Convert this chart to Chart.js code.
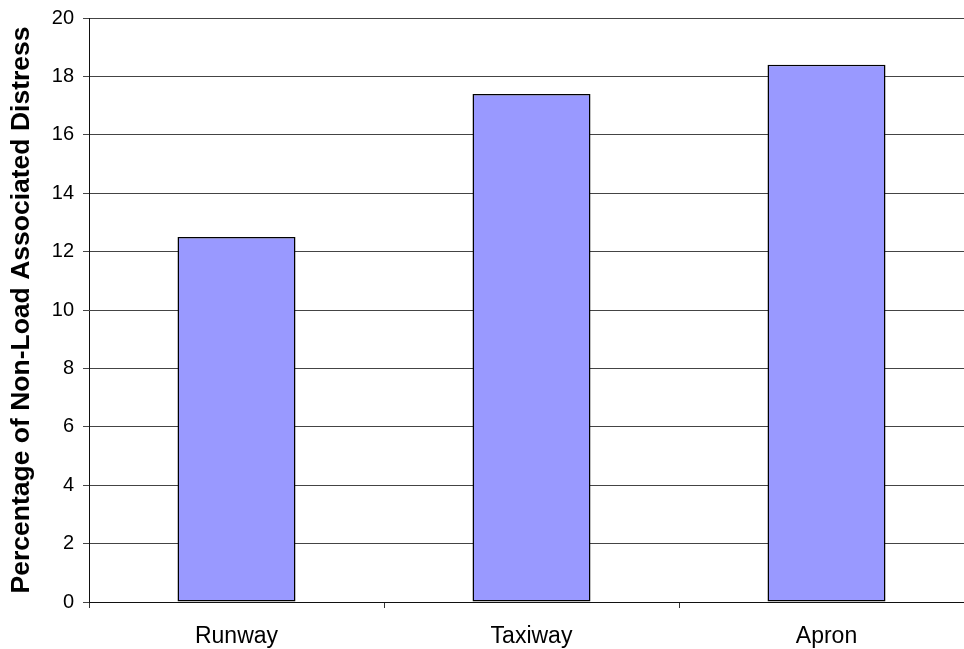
<!DOCTYPE html>
<html>
<head>
<meta charset="utf-8">
<script src="https://cdn.jsdelivr.net/npm/chart.js@4"></script>
<style>
    html, body { margin: 0; padding: 0; background: #fff; overflow: hidden; }
    #wrap { position: relative; width: 980px; height: 649px; }
</style>
</head>
<body>
<div id="wrap"><canvas id="myChart"></canvas></div>
<script>
const categories = ['Runway', 'Taxiway', 'Apron'];
const distressValues = [12.5, 17.4, 18.4];
const yTicks = [0, 2, 4, 6, 8, 10, 12, 14, 16, 18, 20];
const yTitle = 'Percentage of Non-Load Associated Distress';

document.addEventListener('DOMContentLoaded', () => {
    initializeChart();
});

function initializeChart() {
    const ctx = document.getElementById('myChart').getContext('2d');
    new Chart(ctx, {
        type: 'bar',
        data: {
            labels: categories,
            datasets: [{
                data: distressValues,
                backgroundColor: '#9999ff',
                borderColor: '#000000',
                borderWidth: 1.5,
                borderSkipped: false,
                barPercentage: 0.4,
                categoryPercentage: 1.0
            }]
        },
        options: {
            responsive: true,
            maintainAspectRatio: false,
            animation: false,
            layout: { padding: { top: 18, right: 6, left: 0, bottom: 0 } },
            plugins: {
                legend: { display: false },
                tooltip: { enabled: false }
            },
            scales: {
                x: {
                    offset: true,
                    grid: {
                        offset: true,
                        drawOnChartArea: false,
                        drawTicks: true,
                        tickLength: 6,
                        color: '#333'
                    },
                    border: { display: true, color: '#111', width: 1 },
                    ticks: {
                        color: '#000',
                        padding: 15,
                        font: { family: 'Liberation Sans, Arial', size: 23 }
                    },
                    afterFit: scale => { scale.height = 47; }
                },
                y: {
                    min: 0,
                    max: 20,
                    afterBuildTicks: scale => {
                        scale.ticks = yTicks.map(v => ({ value: v }));
                    },
                    grid: {
                        color: '#444',
                        lineWidth: 1,
                        tickLength: 6
                    },
                    border: { display: true, color: '#111', width: 1 },
                    ticks: {
                        color: '#000',
                        padding: 9,
                        font: { family: 'Liberation Sans, Arial', size: 20 }
                    },
                    title: {
                        display: true,
                        text: yTitle,
                        color: '#000',
                        padding: { top: 6, bottom: 0 },
                        font: { family: 'Liberation Sans, Arial', size: 26.5, weight: 'bold' }
                    },
                    afterFit: scale => {
                        scale.width = 89;
                        scale.paddingTop = 0;
                        scale.paddingBottom = 0;
                    }
                }
            }
        }
    });
}
</script>
</body>
</html>
